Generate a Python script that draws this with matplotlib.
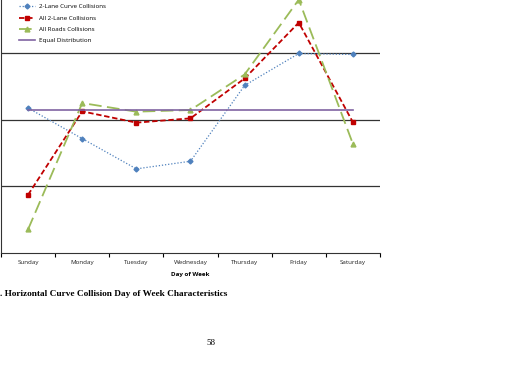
import matplotlib
matplotlib.use("Agg")
import matplotlib.pyplot as plt
import numpy as np

days = ["Sunday", "Monday", "Tuesday", "Wednesday", "Thursday", "Friday", "Saturday"]
curve_2lane = [0.1436, 0.1344, 0.1253, 0.1276, 0.1504, 0.1600, 0.1597]
all_2lane = [0.1175, 0.1426, 0.1392, 0.1405, 0.1525, 0.1693, 0.1393]
all_roads = [0.1071, 0.1451, 0.1425, 0.1430, 0.1537, 0.1762, 0.1328]
equal_dist = [1 / 7] * 7

fig = plt.figure(figsize=(5.1, 3.86), dpi=100)
ax = fig.add_axes([1 / 510, 1 - 253 / 386, 379 / 510, 266 / 386])

x = np.arange(len(days))
ax.plot(x, curve_2lane, color="#4F81BD", ls=(0, (1, 1.5)), lw=0.9,
        marker="D", ms=2.5, label="2-Lane Curve Collisions")
ax.plot(x, all_2lane, color="#C00000", ls=(0, (3, 1.5)), lw=1.3,
        marker="s", ms=3.5, label="All 2-Lane Collisions")
ax.plot(x, all_roads, color="#9BBB59", ls=(0, (7, 3)), lw=1.3,
        marker="^", ms=3.5, label="All Roads Collisions")
ax.plot(x, equal_dist, color="#8064A2", lw=1.2, label="Equal Distribution")

ax.set_xlim(-0.5, 6.5)
ax.set_ylim(0.10, 0.18)
ax.set_yticks([0.12, 0.14, 0.16, 0.18])
ax.yaxis.grid(True, color="#333333", lw=0.9)
ax.set_axisbelow(True)
ax.tick_params(axis="y", left=False, labelleft=False)

ax.set_xticks(np.arange(-0.5, 7, 1))
ax.set_xticklabels([])
ax.set_xticks(x, minor=True)
ax.set_xticklabels(days, minor=True, fontsize=4.5, family="Open Sans", color="#222222")
ax.tick_params(axis="x", which="major", direction="out", length=3, width=0.8)
ax.tick_params(axis="x", which="minor", length=0, pad=5)
ax.set_xlabel("Day of Week", fontsize=4.5, family="Open Sans", fontweight="bold", labelpad=5)

for s in ["top", "right"]:
    ax.spines[s].set_visible(False)
ax.spines["left"].set_color("#333333")
ax.spines["bottom"].set_color("#333333")

handles, labels = ax.get_legend_handles_labels()
fig.legend(handles, labels, loc="upper left", bbox_to_anchor=(19 / 510, 1 - 4 / 386),
           bbox_transform=fig.transFigure, frameon=False, borderpad=0, borderaxespad=0,
           prop={"family": "Open Sans", "size": 4.5}, handlelength=2.6,
           handletextpad=0.6, labelspacing=0.95)

fig.text(0.0, 1 - 294 / 386, ". Horizontal Curve Collision Day of Week Characteristics",
         family="Liberation Serif", fontweight="bold", fontsize=6.65, va="center")
fig.text(211 / 510, 1 - 343 / 386, "58", family="Liberation Serif", fontsize=6.5,
         ha="center", va="center")

fig.savefig("out.png", dpi=100)
